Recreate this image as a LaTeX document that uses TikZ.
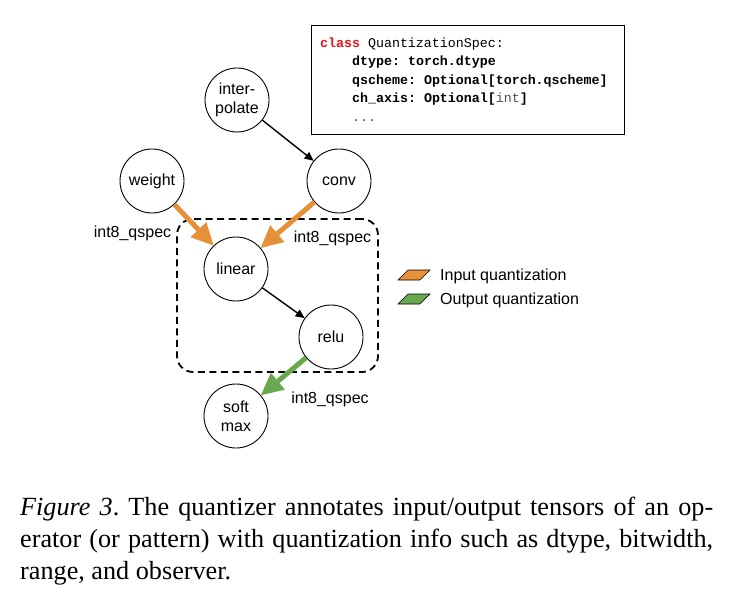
\documentclass[tikz,border=0pt]{standalone}
\usepackage{fontspec}
\setmainfont{Liberation Serif}
\newfontfamily\arialf{Liberation Sans}
\newfontfamily\monof{Liberation Mono}
\usetikzlibrary{arrows.meta}
\definecolor{qorange}{HTML}{E69138}
\definecolor{qgreen}{HTML}{6AA84F}
\definecolor{kwred}{HTML}{E8141A}
\definecolor{typgray}{HTML}{505050}
\frenchspacing
\begin{document}
\begin{tikzpicture}[x=1pt,y=-1pt,
  op/.style={circle, draw, line width=0.9pt, minimum size=64pt, inner sep=0pt,
             font=\arialf\fontsize{16}{19}\selectfont, align=center},
  lbl/.style={font=\arialf\fontsize{16}{19}\selectfont, inner sep=0pt},
  codeline/.style={font=\monof\bfseries\fontsize{13.3}{16}\selectfont, inner sep=0pt, anchor=base west},
  capline/.style={font=\fontsize{26.2}{32}\selectfont, inner sep=0pt, anchor=base west},
  plain/.style={line width=1.4pt, -{Triangle[length=9pt,width=8pt]}},
  qin/.style={draw=qorange, line width=5pt, -{Triangle[length=22pt,width=22pt,line width=0pt]}},
  qout/.style={draw=qgreen, line width=5pt, -{Triangle[length=22pt,width=22pt,line width=0pt]}},
  legendbox/.style={draw, line width=0.6pt}]
\useasboundingbox (0,0) rectangle (730,612);

% code box
\node[draw, line width=1pt, minimum width=313pt, minimum height=109pt, inner sep=0pt] (code) at (467.5,80.5) {};
\node[codeline] (c1) at (320,47.5) {\textcolor{kwred}{class} {\mdseries QuantizationSpec:}};
\node[codeline] (c2) at (352,66) {dtype: torch.dtype};
\node[codeline] (c3) at (352,84.5) {qscheme: Optional[torch.qscheme]};
\node[codeline] (c4) at (352,103) {ch\_axis: Optional[\textcolor{typgray}{\mdseries int}]};
\node[codeline] (c5) at (352,121.5) {\textcolor{typgray}{\mdseries ...}};

% group box
\node[draw, line width=1.8pt, dash pattern=on 7pt off 4.5pt, rounded corners=16pt,
      minimum width=201pt, minimum height=153pt, inner sep=0pt] (grp) at (277.5,295.5) {};

% operators
\node[op] (interp) at (237,100) {inter-\\polate};
\node[op] (weight) at (152,181) {weight};
\node[op] (conv) at (339,181) {conv};
\node[op] (linear) at (236,269) {linear};
\node[op] (relu) at (331,337) {relu};
\node[op] (softmax) at (236,416) {soft\\max};

% edges
\draw[plain] (interp) -- (conv);
\draw[plain] (linear) -- (relu);
\draw[qin] (weight) -- (linear);
\draw[qin] (conv) -- (linear);
\draw[qout] (relu) -- (softmax);

% labels
\node[lbl] (l1) at (132.5,233) {int8\_qspec};
\node[lbl] (l2) at (332.5,238) {int8\_qspec};
\node[lbl] (l3) at (330,399) {int8\_qspec};

% legend
\draw[legendbox, fill=qorange] (398,280) -- (408,270) -- (430,270) -- (420,280) -- cycle;
\draw[legendbox, fill=qgreen] (398,304) -- (408,294) -- (430,294) -- (420,304) -- cycle;
\node[lbl, anchor=west] (li) at (440,276) {Input quantization};
\node[lbl, anchor=west] (lo) at (440,300) {Output quantization};

% caption
\node[capline] (cap1) at (20,515) {\makebox[693pt][s]{\textit{Figure 3}. The quantizer annotates input/output tensors of an op-}};
\node[capline] (cap2) at (20,547) {\makebox[693pt][s]{erator (or pattern) with quantization info such as dtype, bitwidth,}};
\node[capline] (cap3) at (20,579) {range, and observer.};
\end{tikzpicture}
\end{document}
